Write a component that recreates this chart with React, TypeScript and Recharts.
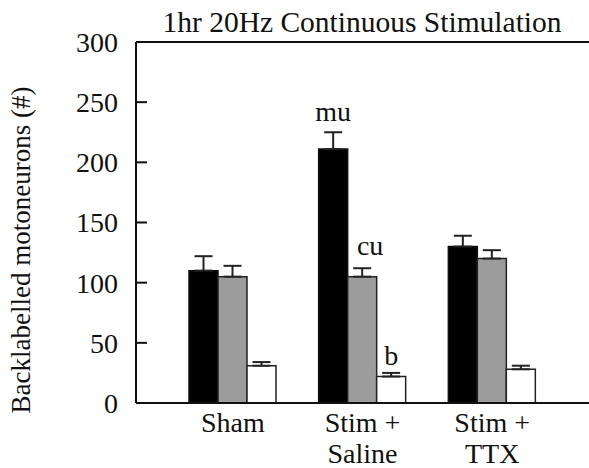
import React from 'react';
import { BarChart, Bar, XAxis, YAxis, ErrorBar, LabelList, ReferenceLine } from 'recharts';

const groups = ['Sham', 'Stim +\nSaline', 'Stim +\nTTX'];
const blackVals = [110, 211, 130];
const blackErr = [12, 14, 9];
const grayVals = [105, 105, 120];
const grayErr = [9, 7, 7];
const whiteVals = [31, 22, 28];
const whiteErr = [3, 3, 3];
const blackNotes = ['', 'mu', ''];
const grayNotes = ['', 'cu', ''];
const whiteNotes = ['', 'b', ''];
const yTicks = [0, 50, 100, 150, 200, 250, 300];

const data = groups.map((g, i) => ({
  name: g,
  black: blackVals[i],
  blackE: [0, blackErr[i]],
  gray: grayVals[i],
  grayE: [0, grayErr[i]],
  white: whiteVals[i],
  whiteE: [0, whiteErr[i]],
}));

const FONT = "'Liberation Serif', 'Times New Roman', Tinos, 'DejaVu Serif', 'Noto Serif', serif";

const CatTick = (props: any) => {
  const { x, y, payload } = props;
  const lines = String(payload.value).split('\n');
  return (
    <text x={x} y={y} textAnchor="middle" style={{ fontFamily: FONT }} fontSize={28} fill="#111">
      {lines.map((l, i) => (
        <tspan key={i} x={x} dy={i === 0 ? 21 : 31}>{l}</tspan>
      ))}
    </text>
  );
};

const makeNote = (notes: string[], vals: number[], errs: number[], dx: number, gap: number) => (props: any) => {
  const { x, y, width, height, index } = props;
  const txt = notes[index];
  if (!txt) return null;
  const pxPer = height / vals[index];
  const top = y - errs[index] * pxPer;
  return (
    <text x={x + width / 2 + dx} y={top - gap} textAnchor="middle" style={{ fontFamily: FONT }} fontSize={28} fill="#111">
      {txt}
    </text>
  );
};

export default function App() {
  return (
    <div style={{ position: 'absolute', left: 0, top: 0, background: '#fff', fontFamily: FONT }}>
      <svg width={589} height={468} style={{ position: 'absolute', left: 0, top: 0, pointerEvents: 'none' }}>
        <text x={362} y={32} textAnchor="middle" style={{ fontFamily: FONT }} fontSize={29.5} fill="#111">
          1hr 20Hz Continuous Stimulation
        </text>
        <text x={30} y={250} transform="rotate(-90 30 250)" textAnchor="middle" style={{ fontFamily: FONT }} fontSize={27} fill="#111">
          Backlabelled motoneurons (#)
        </text>
      </svg>
      <BarChart
        width={589}
        height={468}
        data={data}
        margin={{ top: 42, right: 0, left: 0, bottom: 0 }}
        barGap={0}
        barSize={29}
      >
        <XAxis
          dataKey="name"
          interval={0}
          tick={<CatTick />}
          tickLine={false}
          axisLine={{ stroke: '#111', strokeWidth: 2 }}
          padding={{ left: 32, right: 32 }}
          height={65}
        />
        <YAxis
          width={136}
          domain={[0, 300]}
          ticks={yTicks}
          interval={0}
          tickSize={-11}
          tickMargin={29}
          tickLine={{ stroke: '#111', strokeWidth: 2 }}
          axisLine={{ stroke: '#111', strokeWidth: 2 }}
          tick={{ fontFamily: FONT, fontSize: 28, fill: '#111' }}
        />
        <ReferenceLine y={300} stroke="#111" strokeWidth={2} />
        <Bar dataKey="black" fill="#000" stroke="#111" strokeWidth={1.5} isAnimationActive={false}>
          <ErrorBar dataKey="blackE" width={9} stroke="#222" strokeWidth={2} direction="y" />
          <LabelList dataKey="black" content={makeNote(blackNotes, blackVals, blackErr, 0, 11)} />
        </Bar>
        <Bar dataKey="gray" fill="#9c9c9c" stroke="#222" strokeWidth={1.5} isAnimationActive={false}>
          <ErrorBar dataKey="grayE" width={9} stroke="#222" strokeWidth={2} direction="y" />
          <LabelList dataKey="gray" content={makeNote(grayNotes, grayVals, grayErr, 8, 13)} />
        </Bar>
        <Bar dataKey="white" fill="#fff" stroke="#222" strokeWidth={1.5} isAnimationActive={false}>
          <ErrorBar dataKey="whiteE" width={9} stroke="#222" strokeWidth={2} direction="y" />
          <LabelList dataKey="white" content={makeNote(whiteNotes, whiteVals, whiteErr, 0, 8)} />
        </Bar>
      </BarChart>
    </div>
  );
}
